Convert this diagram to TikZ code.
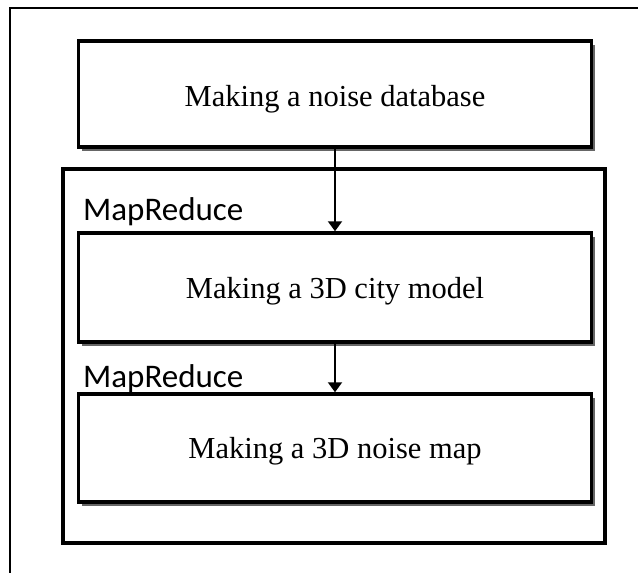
\documentclass[tikz,border=0pt]{standalone}
\usepackage{fontspec}
\setmainfont{Liberation Serif}
\newfontfamily\labelfont{Carlito}
\usetikzlibrary{arrows.meta,shadows}
% text lowered below the box centre, with no height of its own
\newcommand{\lowered}[2]{\raisebox{-#1}[0pt][0pt]{#2}}
\begin{document}
\begin{tikzpicture}[x=1pt,y=-1pt,
  stagebox/.style={draw=black, line width=3.5pt, fill=white,
    minimum width=513pt, inner sep=0pt,
    drop shadow={shadow xshift=3.5pt, shadow yshift=-3.5pt, fill=black!60, opacity=1},
    font=\fontsize{30.5}{34}\selectfont},
  container/.style={draw=black, line width=4pt, minimum width=542pt, minimum height=374pt, inner sep=0pt},
  tag/.style={anchor=base west, inner sep=0pt, font=\labelfont\fontsize{33}{36}\selectfont},
  flow/.style={line width=2pt, -{Triangle[length=10pt,width=14pt]}}
]
\useasboundingbox (0,0) rectangle (638,573);
% page frame (left and top edges)
\draw[line width=2pt] (10,573) -- (10,8) -- (638,8);

% MapReduce container
\node[container] (mr) at (334,356) {};

% processing stages
\node[stagebox, minimum height=106pt] (db) at (335,94) {\lowered{12.5pt}{Making a noise database}};
\node[stagebox, minimum height=109pt] (city) at (335,287.5) {\lowered{10.5pt}{Making a 3D city model}};
\node[stagebox, minimum height=108pt] (noise) at (335,448) {\lowered{10pt}{Making a 3D noise map}};

% stage labels
\node[tag] (tag1) at (83,220) {MapReduce};
\node[tag] (tag2) at (83,387) {MapReduce};

% connectors
\draw[flow] (db.south) -- (city.north);
\draw[flow] (city.south) -- (noise.north);
\end{tikzpicture}
\end{document}
